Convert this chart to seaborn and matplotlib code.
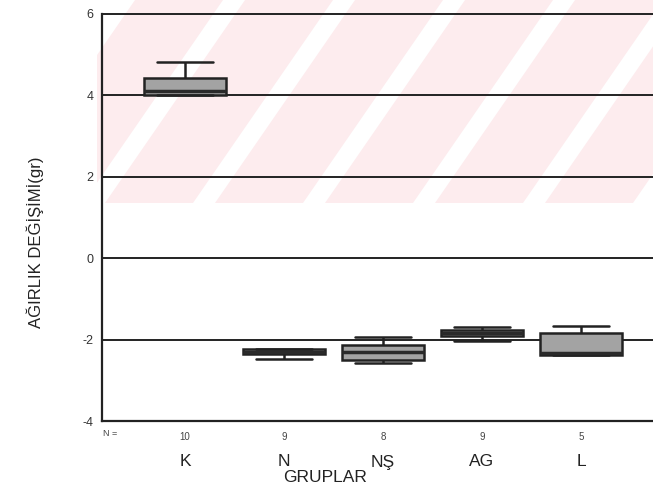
import numpy as np
import pandas as pd
import matplotlib
matplotlib.use("Agg")
import matplotlib.pyplot as plt
import matplotlib.transforms as mtrans
from matplotlib.patches import Polygon, Rectangle
import seaborn as sns

# ---- data: per group [whisker low, Q1, median, Q3, whisker high]
groups = ["K", "N", "NŞ", "AG", "L"]
n_counts = ["10", "9", "8", "9", "5"]
k_vals = [4.00, 4.00, 4.12, 4.42, 4.82]
n_vals = [-2.47, -2.36, -2.30, -2.22, -2.22]
ns_vals = [-2.58, -2.50, -2.30, -2.13, -1.94]
ag_vals = [-2.04, -1.92, -1.84, -1.76, -1.70]
l_vals = [-2.38, -2.38, -2.33, -1.85, -1.67]
y_ticks = [-4, -2, 0, 2, 4, 6]

df = pd.DataFrame({
    "grup": np.repeat(groups, 5),
    "deger": k_vals + n_vals + ns_vals + ag_vals + l_vals,
})

sns.set_style("white")
plt.rcParams["font.family"] = ["Liberation Sans", "DejaVu Sans"]

W, H = 653, 491
fig = plt.figure(figsize=(W / 100, H / 100), dpi=100)

# scanned watermark (pale pink diagonal stripes), behind the axes
clip = Rectangle((97 / W, 1 - 203 / H), (W - 97) / W, 203 / H,
                 transform=fig.transFigure, facecolor="none", edgecolor="none")
for b in [-5, 105, 215, 325, 435, 545, 655]:
    pts = [((b) / W, 1 - 203 / H), ((b + 88) / W, 1 - 203 / H),
           ((b + 228) / W, 1.0), ((b + 140) / W, 1.0)]
    p = Polygon(pts, closed=True, transform=fig.transFigure,
                facecolor="#fdecee", edgecolor="none", zorder=-5)
    p.set_clip_path(clip)
    fig.patches.append(p)

ax = fig.add_axes([102 / W, 1 - 421 / H, 1 - 102 / W, (421 - 14) / H])
ax.set_facecolor("none")
ax.set_zorder(1)

sns.boxplot(data=df, x="grup", y="deger", order=groups, ax=ax,
            whis=(0, 100), width=0.82, color="#a3a3a3", saturation=1,
            linewidth=1.8, linecolor="#222222", fliersize=0,
            medianprops={"color": "#2a2a2a", "linewidth": 2.5},
            capwidths=0.57)

ax.set_xlim(-0.838, 4.727)
ax.set_ylim(-4, 6)
ax.set_yticks(y_ticks)
ax.set_yticklabels([str(t) for t in y_ticks], fontsize=9, color="#333333")
for t in y_ticks:
    ax.axhline(t, color="#222222", lw=1.4, zorder=0.5, clip_on=False)

ax.set_xticks(range(len(groups)))
ax.set_xticklabels(n_counts, fontsize=7, color="#444444")
ax.tick_params(axis="x", length=3, width=2, color="#222222", pad=5)
ax.tick_params(axis="y", length=3, width=2, color="#222222", pad=3)
ax.set_xlabel("")
ax.set_ylabel("")

for s in ["top", "right"]:
    ax.spines[s].set_visible(False)
for s in ["left", "bottom"]:
    ax.spines[s].set_color("#222222")
    ax.spines[s].set_linewidth(1.6)

blend = mtrans.blended_transform_factory(ax.transData, fig.transFigure)
for i, g in enumerate(groups):
    ax.text(i, 1 - 462 / H, g, transform=blend, ha="center", va="center",
            fontsize=12.5, color="#222222")

fig.text(103 / W, 1 - 433 / H, "N =", fontsize=6.5, color="#444444",
         ha="left", va="center")
fig.text(325 / W, 1 - 477 / H, "GRUPLAR", fontsize=12.5, color="#222222",
         ha="center", va="center")
fig.text(35 / W, 1 - 242 / H, "AĞIRLIK DEĞİŞİMİ(gr)", fontsize=12,
         color="#222222", rotation=90, ha="center", va="center")

fig.savefig("out.png", dpi=100)
